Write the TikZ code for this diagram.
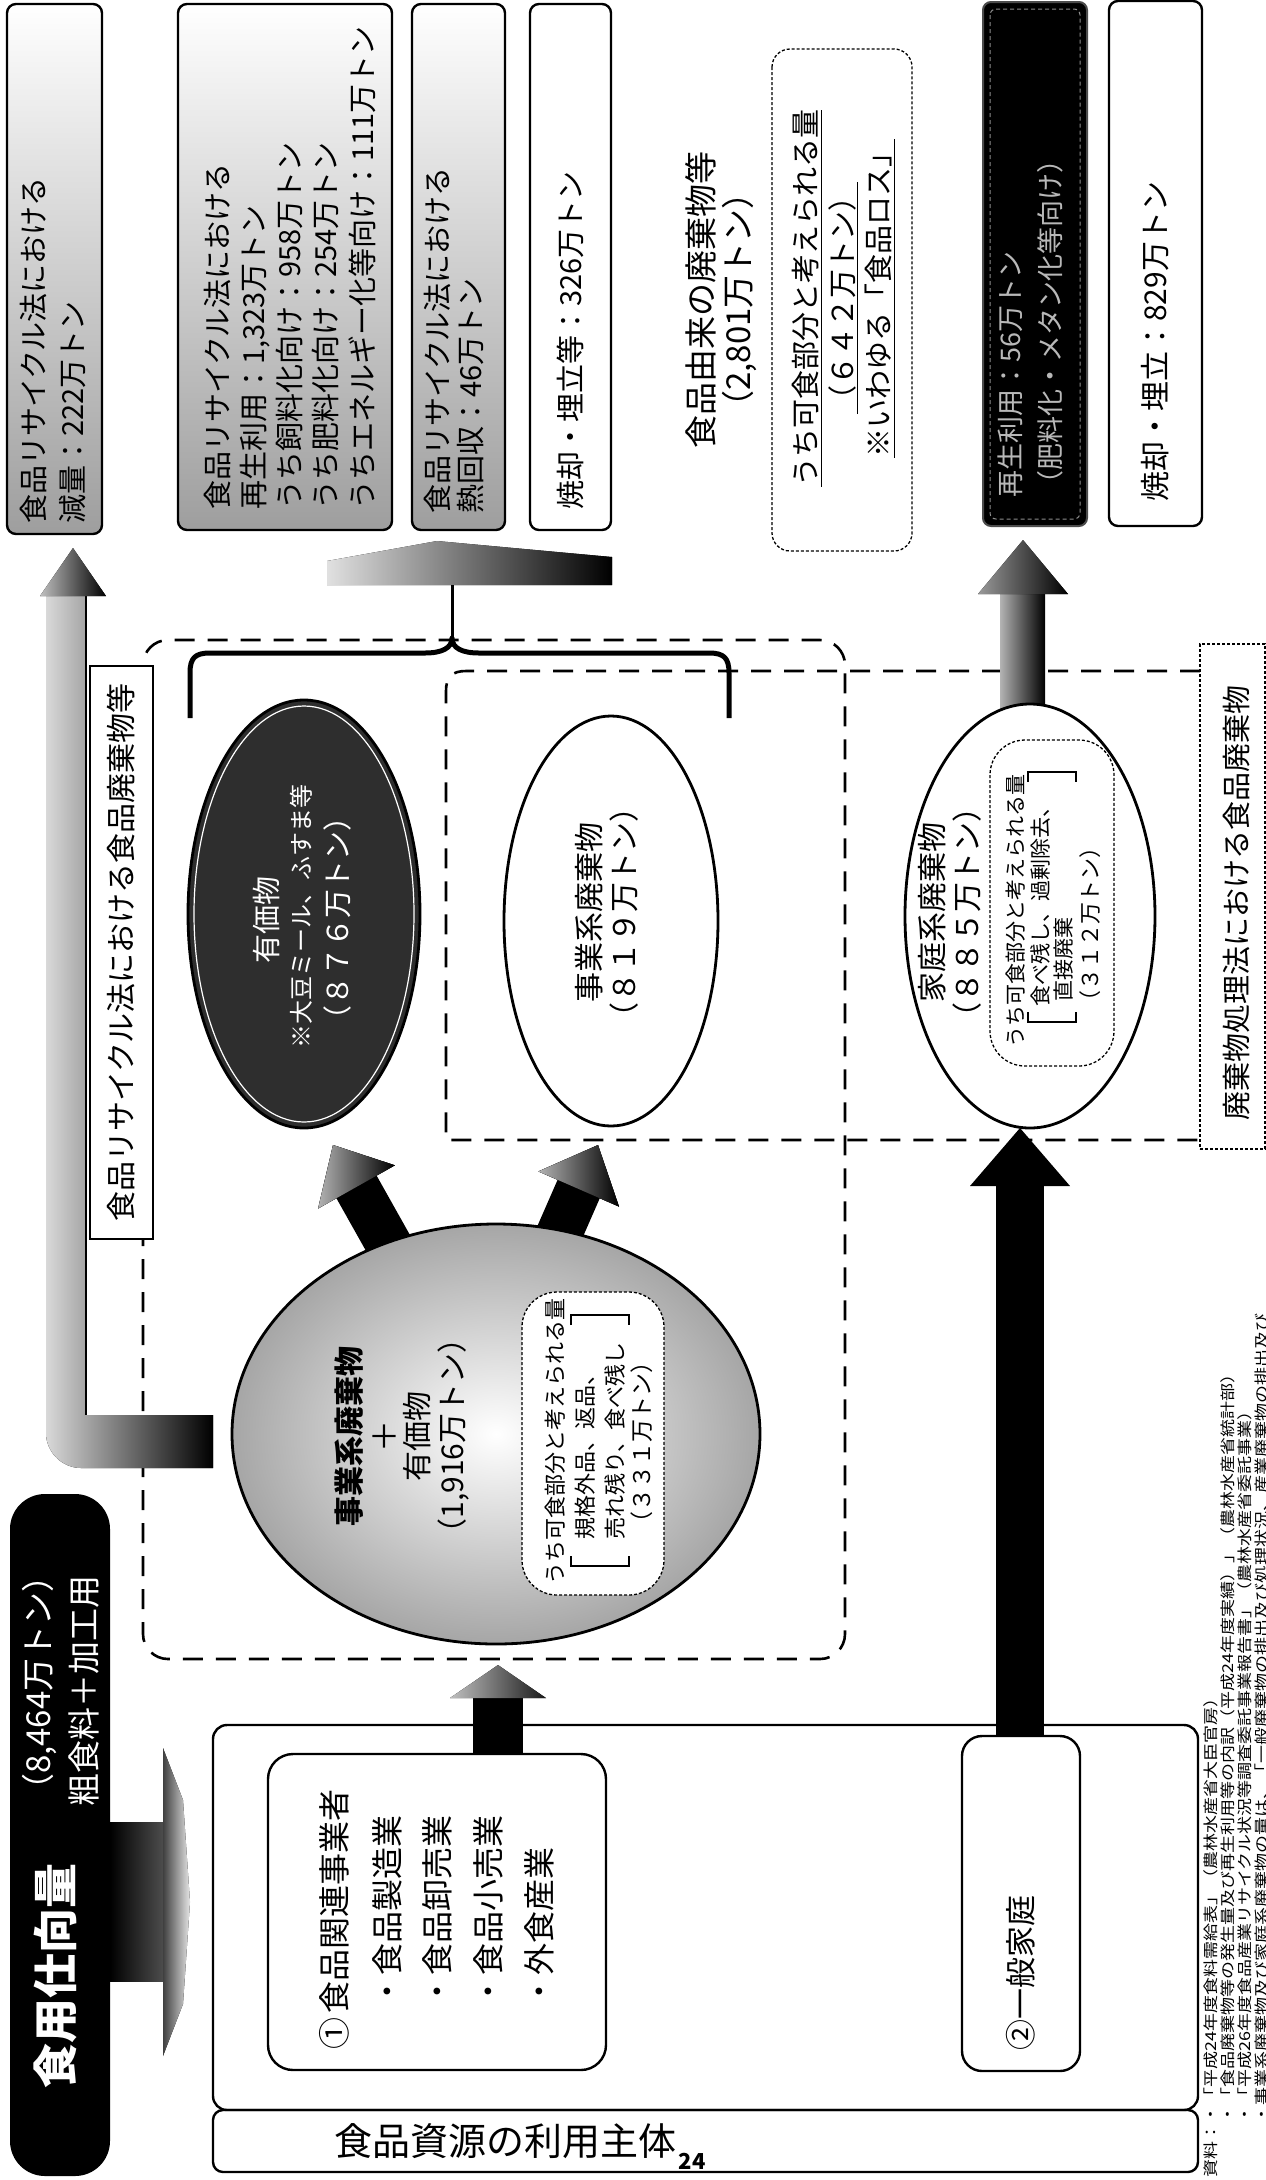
\documentclass[tikz,border=0pt]{standalone}
\usepackage{fontspec}
\setmainfont{Noto Sans CJK JP}
\usetikzlibrary{shapes.geometric,calc}
\newcommand\fsz[2]{\fontsize{#1}{#2}\selectfont}
\begin{document}
\begin{tikzpicture}[x=1pt,y=-1pt,
  box/.style={draw=black,line width=2.4pt,rounded corners=9pt},
  shadebox/.style={box,top color=white,bottom color=black!38},
  vt/.style={rotate=90,inner sep=0pt},
  dashline/.style={draw=black,line width=2.6pt,dash pattern=on 20pt off 13pt},
  dotline/.style={draw=black,line width=1.3pt,dash pattern=on 3pt off 2pt},
  ell/.style={ellipse,inner sep=0pt,draw=black,line width=2.8pt},
  brk/.style={draw=black,line width=1.8pt},
  fn/.style={vt,anchor=west,font=\fsz{15}{17}},
]
\useasboundingbox (0,0) rectangle (1266,2180);
\fill[white] (0,0) rectangle (1266,2180);

% ---------- top row ----------
\draw[shadebox] (7,4) rectangle (102,534);
\node[vt,anchor=west,align=left,font=\fsz{29}{39}] (tA) at (52.5,524) {食品リサイクル法における\\減量：222万トン};
\draw[shadebox] (178,4) rectangle (392,530);
\node[vt,anchor=west,align=left,font=\fsz{29}{36.25}] (tB) at (289.5,510) {食品リサイクル法における\\再生利用：1,323万トン\\うち飼料化向け：958万トン\\うち肥料化向け：254万トン\\うちエネルギー化等向け：111万トン};
\draw[shadebox] (412,4) rectangle (505,530);
\node[vt,anchor=west,align=left,font=\fsz{29}{33}] (tC) at (453.5,514) {食品リサイクル法における\\熱回収：46万トン};
\draw[box,fill=white] (530,4) rectangle (611,530);
\node[vt,anchor=west,font=\fsz{29}{33}] (tD) at (570,510) {焼却・埋立等：326万トン};

\node[vt,align=center,font=\fsz{33}{37}] (tYurai) at (721.5,300) {食品由来の廃棄物等\\（2,801万トン）};
\draw[dotline,rounded corners=18pt] (772,49) rectangle (912,551);
\node[vt,align=center,font=\fsz{29}{36.5}] (tLoss) at (843.5,298) {\underline{うち可食部分と考えられる量}\\\underline{（６４２万トン）}\\\underline{※いわゆる「食品ロス」}};

\draw[fill=black,draw=black!70,line width=2pt,rounded corners=8pt] (983,2) rectangle (1087,526);
\draw[white!55!black,line width=1pt,dash pattern=on 4pt off 3pt,rounded corners=6pt] (990,9) rectangle (1080,519);
\node[vt,anchor=west,align=left,text=white!72!black,font=\fsz{27}{40}] (tRe) at (1030,498) {再生利用：56万トン\\（肥料化・メタン化等向け）};
\draw[box,fill=white] (1109,1) rectangle (1202,526);
\node[vt,anchor=west,font=\fsz{30}{34}] (t829) at (1155,502) {焼却・埋立：829万トン};

% ---------- regions ----------
\draw[dashline,rounded corners=25pt] (143,640) rectangle (845,1659);
\draw[dashline] (1200,671) -- (466,671) .. controls (452,671) and (446,677) .. (446,691) -- (446,1140) -- (1200,1140);

% L arrow to reduction box
\coordinate (Ltip) at (73,548);
\fill[left color=black!15,right color=black] (46,595) -- (86,595) -- (86,1415) -- (213,1415) -- (213,1468) -- (81,1468) .. controls (62,1468) and (46,1452) .. (46,1433) -- cycle;
\draw[line width=2.5pt] (86,595) -- (86,1415);
\fill[left color=black!25,right color=black] (40,596) -- (Ltip) -- (106,596) -- cycle;

% wedge arrow and brace
\fill[left color=black!12,middle color=black,right color=black] (327,585) -- (327,561) -- (437,541) -- (612,557) -- (612,585) -- cycle;
\draw[line width=3pt] (452,585) -- (452,640);
\draw[line width=5pt,line join=round] (190,718) -- (190,673) .. controls (190,658) and (195,653) .. (210,653) -- (425,653) .. controls (442,653) and (452,648) .. (452,638) .. controls (452,648) and (462,653) .. (479,653) -- (709,653) .. controls (724,653) and (729,658) .. (729,673) -- (729,718);

% labels of regions
\node[draw=black,line width=2pt,fill=white,minimum width=63pt,minimum height=573pt,inner sep=0pt] (lab1) at (121.5,952.5) {};
\node[vt,font=\fsz{30}{34}] (lab1t) at (lab1.center) {食品リサイクル法における食品廃棄物等};
\node[dotline,fill=white,minimum width=65pt,minimum height=505pt,inner sep=0pt] (lab2) at (1232.5,896.5) {};
\node[vt,font=\fsz{29}{33}] (lab2t) at (1237,903) {廃棄物処理法における食品廃棄物};

% diagonal arrows from the big ellipse
\fill[black] (376.9,1270.3) -- (336.4,1198.2) -- (318.1,1208.5) -- (333,1145) -- (394.9,1165.3) -- (376.6,1175.6) -- (417.1,1247.7) -- cycle;
\fill[left color=black!30,right color=black] (318.1,1208.5) -- (333,1145) -- (394.9,1165.3) -- cycle;
\fill[black] (530.9,1240.8) -- (557.6,1179.8) -- (538.4,1171.4) -- (598,1145) -- (619.0,1206.6) -- (599.8,1198.2) -- (573.1,1259.2) -- cycle;
\fill[left color=black!30,right color=black] (538.4,1171.4) -- (598,1145) -- (619,1206.6) -- cycle;

% household arrow up
\fill[left color=black!30,middle color=black,right color=black] (1000,593) rectangle (1045,712);
\fill[left color=black!40,right color=black] (978,594) -- (1023,540) -- (1068,594) -- cycle;

% ---------- ellipses ----------
\node[ell,fill=black!82,minimum width=232pt,minimum height=428pt] (yuka) at (304,914) {};
\node[ellipse,draw=white,line width=1.2pt,minimum width=220pt,minimum height=416pt,inner sep=0pt] (yukaring) at (304,914) {};
\node[vt,text=white,font=\fsz{29}{33}] (yk1) at (266,920) {有価物};
\node[vt,text=white,font=\fsz{24}{28}] (yk2) at (301,916) {※大豆ミール、ふすま等};
\node[vt,text=white,font=\fsz{29}{33}] (yk3) at (337,918) {（８７６万トン）};

\node[ell,fill=white,minimum width=214pt,minimum height=410pt] (jigyo) at (611,921) {};
\node[vt,align=center,font=\fsz{30}{35}] (jg) at (606.5,912) {事業系廃棄物\\（８１９万トン）};

\node[ell,fill=white,minimum width=250pt,minimum height=424pt] (katei) at (1030,916) {};
\node[vt,align=center,font=\fsz{30}{35}] (kt1) at (949.5,912) {家庭系廃棄物\\（８８５万トン）};
\draw[dotline,fill=white,rounded corners=35pt] (990,740) rectangle (1114,1066);
\node[vt,anchor=west,font=\fsz{21}{25}] (kt2) at (1016,1048) {うち可食部分と考えられる量};
\node[vt,anchor=west,font=\fsz{21}{25}] (kt3) at (1040,1007) {食べ残し、過剰除去、};
\node[vt,anchor=west,font=\fsz{21}{25}] (kt4) at (1064,1002) {直接廃棄};
\node[vt,font=\fsz{22}{25}] (kt5) at (1090,924) {（３１２万トン）};
\draw[brk] (1028,1012) -- (1028,1022) -- (1076,1022) -- (1076,1012);
\draw[brk] (1028,782) -- (1028,772) -- (1076,772) -- (1076,782);

\node[ell,inner color=white,outer color=black!35,minimum width=528pt,minimum height=420pt] (big) at (496,1434) {};
\node[vt,font=\bfseries\fsz{30}{34}] (bg1) at (349,1436) {事業系廃棄物};
\node[vt,font=\fsz{32}{34}] (bg2) at (385,1436) {＋};
\node[vt,font=\fsz{30}{34}] (bg3) at (417,1436) {有価物};
\node[vt,font=\fsz{30}{34}] (bg4) at (454,1436) {（1,916万トン）};
\draw[dotline,fill=white,rounded corners=35pt] (522,1292) rectangle (664,1595);
\node[vt,anchor=west,font=\fsz{22}{26}] (bg5) at (555,1585) {うち可食部分と考えられる量};
\node[vt,anchor=west,font=\fsz{22}{26}] (bg6) at (585,1540) {規格外品、返品、};
\node[vt,anchor=west,font=\fsz{22}{26}] (bg7) at (615,1540) {売れ残り、食べ残し};
\node[vt,font=\fsz{23}{26}] (bg8) at (642,1442) {（３３１万トン）};
\draw[brk] (571,1556) -- (571,1566) -- (629,1566) -- (629,1556);
\draw[brk] (571,1325) -- (571,1315) -- (629,1315) -- (629,1325);

% ---------- bottom ----------
\fill[black,rounded corners=35pt] (10,1494) rectangle (110,2176);
\node[vt,text=white,font=\bfseries\fsz{45}{50}] (p1) at (55,1976) {食用仕向量};
\node[vt,anchor=west,text=white,font=\fsz{33}{37}] (p2) at (40,1807) {（8,464万トン）};
\node[vt,anchor=west,text=white,font=\fsz{33}{37}] (p3) at (84,1807) {粗食料＋加工用};
\fill[left color=black,right color=black!70] (110,1822) rectangle (163,1981);
\fill[left color=black!75,right color=black!10] (163,1748) -- (183,1800) -- (190,1902) -- (183,2004) -- (163,2056) -- cycle;

\draw[box,rounded corners=14pt] (213,1725) rectangle (1198,2110);
\draw[box,rounded corners=10pt] (213,2110) rectangle (1198,2172);
\draw[box,rounded corners=25pt,fill=white] (268,1754) rectangle (606,2070);
\node[vt,anchor=west,font=\fsz{32}{36}] (i1) at (334,2050) {①\hspace{4pt}食品関連事業者};
\node[vt,anchor=west,font=\fsz{32}{36}] (i2) at (387,2008) {・食品製造業};
\node[vt,anchor=west,font=\fsz{32}{36}] (i3) at (437,2008) {・食品卸売業};
\node[vt,anchor=west,font=\fsz{32}{36}] (i4) at (488,2008) {・食品小売業};
\node[vt,anchor=west,font=\fsz{32}{36}] (i5) at (539,2008) {・外食産業};
\draw[box,rounded corners=20pt,fill=white] (962,1736) rectangle (1080,2071);
\node[vt,anchor=west,font=\fsz{31}{35}] (i6) at (1021,2051) {②一般家庭};

\fill[black] (473,1698) rectangle (523,1754);
\fill[left color=black!25,right color=black!90] (450,1698) -- (498,1665) -- (546,1698) -- cycle;
\fill[black] (996,1185) rectangle (1044,1736);
\fill[black] (970,1186) -- (1020,1128) -- (1070,1186) -- cycle;

\node[anchor=west,inner sep=0pt,font=\fsz{38}{40}] (shutai) at (334,2141) {食品資源の利用主体};
\node[font=\bfseries\fsz{22}{24},inner sep=0pt] (pg) at (692,2161) {24};

% footnotes
\node[fn] (fn1) at (1211,2178) {\scalebox{1.2}[1]{資料：・「平成24年度食料需給表」（農林水産省大臣官房）}};
\node[fn] (fn2) at (1228,2124) {\scalebox{1.2}[1]{・「食品廃棄物等の発生量及び再生利用等の内訳（平成24年度実績）」（農林水産省統計部）}};
\node[fn] (fn3) at (1245,2124) {\scalebox{1.2}[1]{・「平成26年度食品産業リサイクル状況等調査委託事業報告書」（農林水産省委託事業）}};
\node[fn] (fn4) at (1262,2124) {\scalebox{1.2}[1]{・事業系廃棄物及び家庭系廃棄物の量は、「一般廃棄物の排出及び処理状況、産業廃棄物の排出及び}};
\end{tikzpicture}
\end{document}
